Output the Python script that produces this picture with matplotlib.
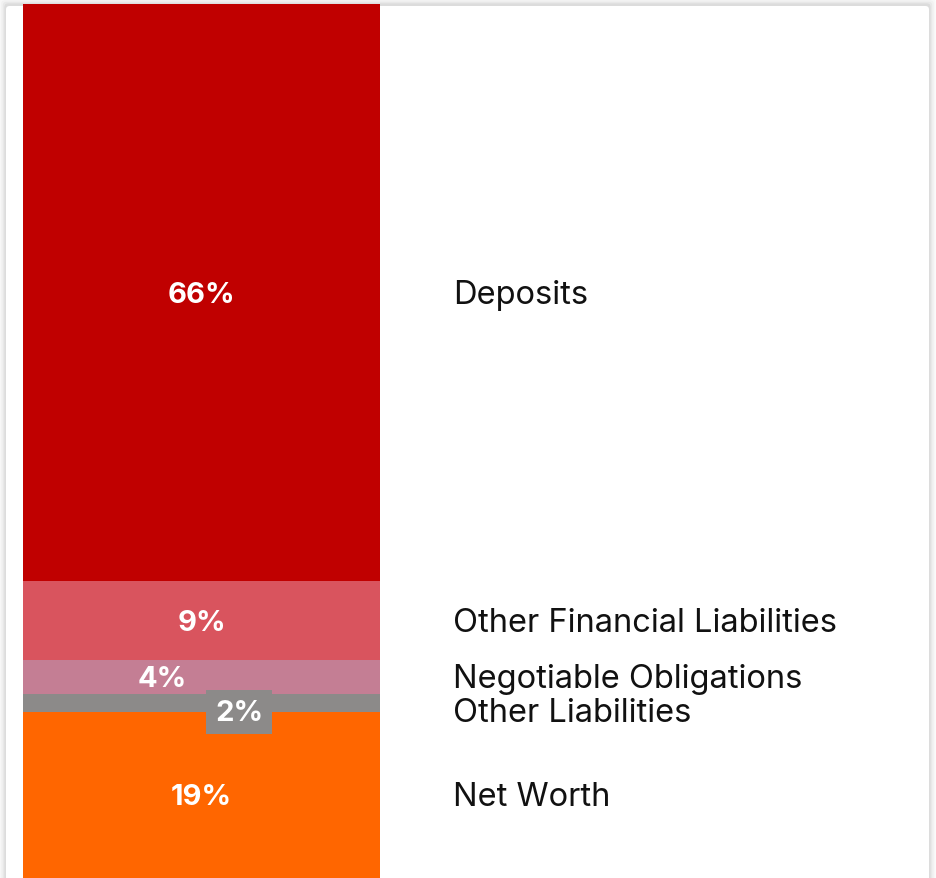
import matplotlib.pyplot as plt
from matplotlib.patches import FancyBboxPatch
from matplotlib.transforms import offset_copy

plt.rcParams['font.family'] = ['Inter', 'DejaVu Sans']

categories = ['Net Worth', 'Other Liabilities', 'Negotiable Obligations',
              'Other Financial Liabilities', 'Deposits']
shares = [19, 2, 4, 9, 66]
colors = ['#FF6600', '#8C8A89', '#C47E94', '#D9545E', '#C00000']

W, H = 936, 879
fig = plt.figure(figsize=(W / 100, H / 100), dpi=100)
fig.patch.set_facecolor('white')

# soft card shadow behind the chart
for i, a in enumerate([0.012, 0.018, 0.025, 0.035, 0.05]):
    pad = (5 - i) * 1.6
    fig.patches.append(FancyBboxPatch(
        ((6 - pad) / W, -0.05), (923 + 2 * pad) / W, (H - 6 + pad) / H + 0.05,
        boxstyle='round,pad=0,rounding_size=0.004', transform=fig.transFigure,
        facecolor='#000000', edgecolor='none', alpha=a, zorder=-2))
fig.patches.append(FancyBboxPatch(
    (6 / W, -0.05), 923 / W, (H - 7) / H + 0.05,
    boxstyle='round,pad=0,rounding_size=0.004', transform=fig.transFigure,
    facecolor='white', edgecolor='none', zorder=-1))

bar_left, bar_w = 23, 357
ax = fig.add_axes([bar_left / W, 0, (W - bar_left) / W, 874 / H])
ax.set_zorder(2)
ax.set_xlim(0, (W - bar_left) / bar_w)
ax.set_ylim(0, sum(shares))
ax.axis('off')
ax.patch.set_alpha(0)

label_x = (453 - bar_left) / bar_w
pct_x = {'Negotiable Obligations': 0.39, 'Other Liabilities': 0.605}
# nudge the two thin segments' labels apart (pixels, negative = down)
nudge = {'Negotiable Obligations': 0, 'Other Liabilities': -7}

bottom = 0
for cat, val, col in zip(categories, shares, colors):
    ax.bar(0.5, val, width=1, bottom=bottom, color=col, edgecolor='none')
    mid = bottom + val / 2
    tr = offset_copy(ax.transData, fig=fig, x=0, y=-2 + nudge.get(cat, 0),
                     units='dots')
    ax.text(label_x, mid, cat, ha='left', va='center', fontsize=23.5,
            color='#111111', transform=tr)
    bbox = None
    if cat == 'Other Liabilities':
        bbox = dict(boxstyle='square,pad=0.3', facecolor=col, edgecolor='none')
    ax.text(pct_x.get(cat, 0.5), mid, f'{val}%', ha='center', va='center',
            fontsize=21, fontweight='bold', color='white', bbox=bbox,
            transform=tr)
    bottom += val

fig.savefig('out.png', dpi=100)
